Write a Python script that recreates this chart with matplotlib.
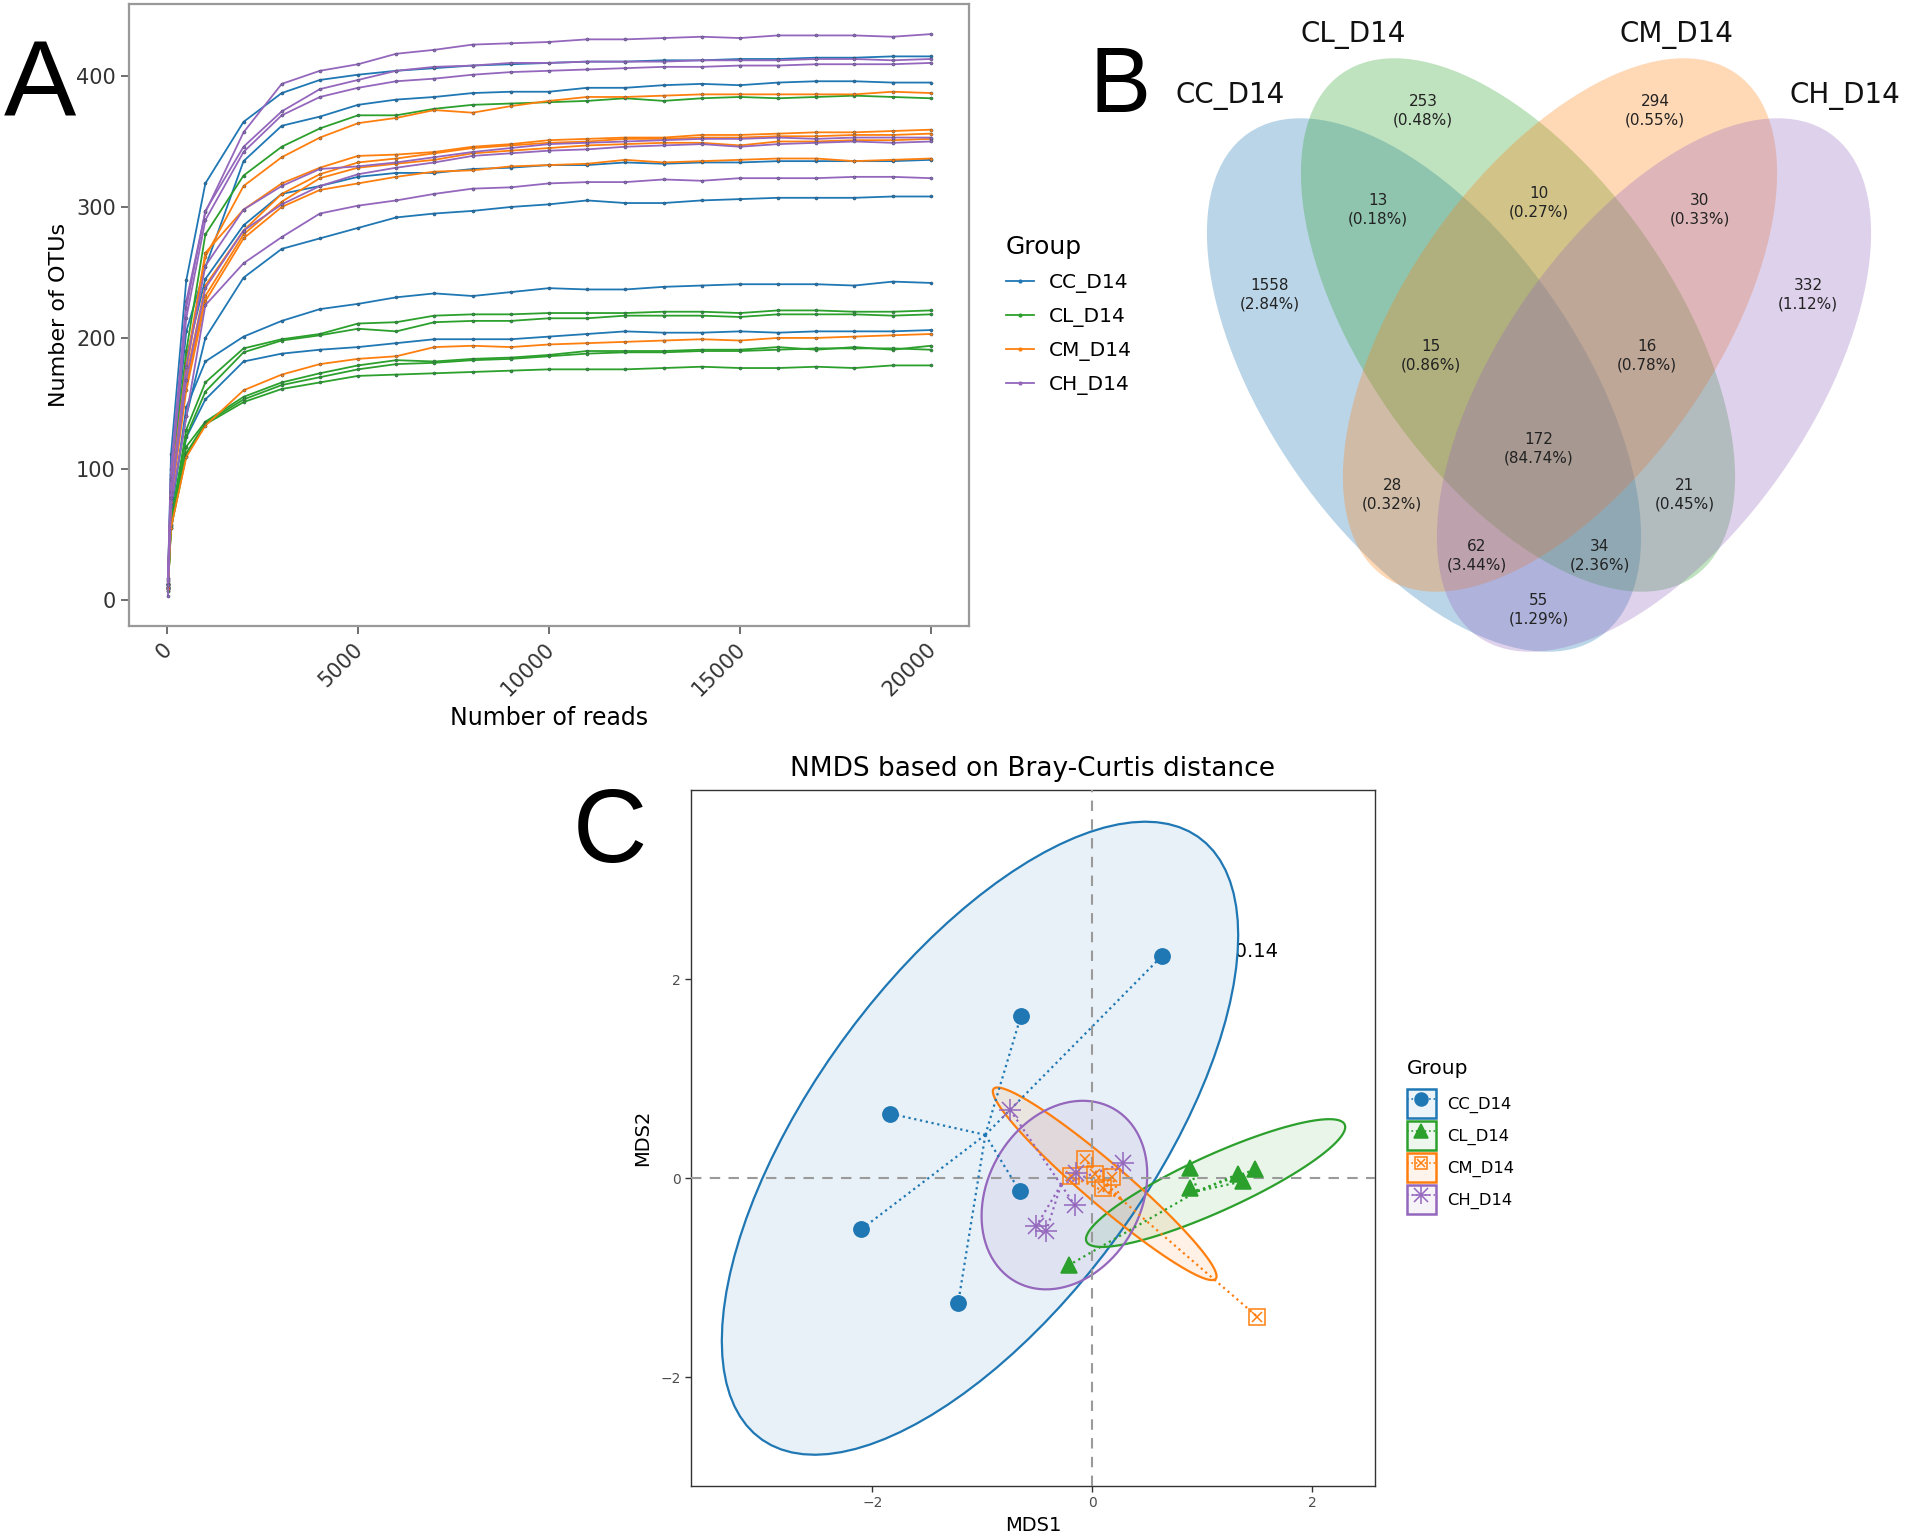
import numpy as np
import matplotlib
matplotlib.use("Agg")
import matplotlib.pyplot as plt
import matplotlib.transforms as mtransforms
from matplotlib.patches import Ellipse, Polygon, Patch
from matplotlib.lines import Line2D
from matplotlib.legend_handler import HandlerTuple

plt.rcParams['font.family'] = ['DejaVu Sans']

groups = ['CC_D14', 'CL_D14', 'CM_D14', 'CH_D14']
group_colors = ['#1f77b4', '#2ca02c', '#ff7f0e', '#9467bd']

# ---- A: rarefaction curves (OTUs vs reads) ----
depths = [20, 100, 500, 1000, 2000, 3000, 4000, 5000, 6000, 7000, 8000, 9000,
          10000, 11000, 12000, 13000, 14000, 15000, 16000, 17000, 18000, 19000, 20000]

cc_curves = [
    [14, 111, 244, 318, 365, 387, 397, 401, 404, 406, 408, 409, 410, 411, 411, 412, 412, 413, 413, 414, 414, 415, 415],
    [12, 90, 205, 254, 335, 362, 369, 378, 382, 384, 387, 388, 388, 391, 391, 393, 394, 393, 395, 396, 396, 395, 395],
    [11, 80, 185, 245, 286, 310, 316, 323, 326, 326, 329, 330, 332, 332, 334, 333, 334, 334, 335, 335, 335, 335, 336],
    [10, 70, 140, 200, 246, 268, 276, 284, 292, 295, 297, 300, 302, 305, 303, 303, 305, 306, 307, 307, 307, 308, 308],
    [9, 65, 147, 182, 201, 213, 222, 226, 231, 234, 232, 235, 238, 237, 237, 239, 240, 241, 241, 241, 240, 243, 242],
    [9, 60, 124, 153, 182, 188, 191, 193, 196, 199, 199, 199, 201, 203, 205, 204, 204, 205, 204, 205, 205, 205, 206],
]
cl_curves = [
    [12, 88, 190, 279, 324, 346, 360, 370, 370, 375, 378, 379, 380, 381, 383, 381, 383, 384, 383, 384, 385, 384, 383],
    [9, 60, 130, 166, 192, 199, 203, 211, 212, 217, 218, 218, 219, 219, 219, 220, 220, 219, 221, 221, 220, 220, 221],
    [8, 58, 125, 159, 189, 198, 202, 207, 205, 212, 213, 213, 215, 215, 217, 217, 217, 216, 218, 218, 218, 217, 218],
    [8, 57, 117, 136, 155, 166, 173, 179, 183, 182, 184, 185, 187, 190, 190, 190, 191, 191, 193, 191, 193, 191, 194],
    [7, 56, 112, 135, 153, 164, 170, 176, 180, 181, 183, 184, 186, 188, 189, 189, 190, 190, 191, 192, 192, 192, 191],
    [7, 55, 110, 134, 151, 161, 166, 171, 172, 173, 174, 175, 176, 176, 176, 177, 178, 177, 177, 178, 177, 179, 179],
]
cm_curves = [
    [13, 85, 175, 262, 316, 338, 353, 364, 368, 374, 372, 377, 381, 384, 384, 385, 386, 386, 386, 386, 386, 388, 387],
    [12, 85, 180, 265, 298, 318, 330, 339, 340, 342, 346, 348, 351, 352, 353, 353, 355, 355, 356, 357, 357, 358, 359],
    [11, 80, 170, 240, 282, 310, 325, 334, 337, 341, 345, 347, 349, 350, 352, 352, 353, 353, 354, 354, 355, 355, 356],
    [10, 78, 165, 232, 279, 304, 322, 330, 333, 336, 341, 343, 345, 347, 348, 349, 349, 347, 350, 350, 351, 351, 352],
    [10, 75, 160, 228, 276, 300, 313, 318, 323, 327, 328, 331, 332, 333, 336, 334, 335, 336, 337, 337, 335, 336, 337],
    [8, 55, 109, 133, 160, 172, 180, 184, 186, 193, 194, 193, 195, 196, 197, 198, 199, 198, 200, 200, 201, 202, 203],
]
ch_curves = [
    [17, 100, 228, 296, 357, 394, 404, 409, 417, 420, 424, 425, 426, 428, 428, 429, 430, 429, 431, 431, 431, 430, 432],
    [16, 95, 223, 297, 346, 373, 390, 397, 404, 407, 408, 410, 410, 411, 411, 411, 412, 412, 412, 413, 413, 412, 413],
    [15, 92, 215, 290, 342, 370, 384, 391, 396, 398, 401, 403, 404, 405, 406, 407, 407, 408, 408, 409, 409, 409, 410],
    [3, 72, 140, 225, 257, 277, 295, 301, 305, 310, 314, 315, 318, 319, 319, 321, 320, 322, 322, 322, 323, 323, 322],
    [12, 82, 178, 255, 298, 316, 329, 331, 334, 338, 342, 345, 348, 349, 350, 351, 352, 352, 353, 352, 353, 353, 353],
    [11, 78, 168, 238, 282, 302, 316, 325, 330, 334, 339, 341, 343, 344, 346, 347, 348, 346, 348, 349, 350, 349, 350],
]

# ---- B: Venn counts ----
venn_counts = [1558, 253, 294, 332, 13, 10, 30, 15, 16, 172, 28, 21, 62, 34, 55]
venn_pcts = ['2.84%', '0.48%', '0.55%', '1.12%', '0.18%', '0.27%', '0.33%', '0.86%',
             '0.78%', '84.74%', '0.32%', '0.45%', '3.44%', '2.36%', '1.29%']

# ---- C: NMDS coordinates ----
cc_x = [0.63, -0.65, -1.84, -0.66, -2.10, -1.22]
cc_y = [2.23, 1.63, 0.65, -0.13, -0.51, -1.25]
cl_x = [0.89, 0.89, 1.32, 1.37, 1.48, -0.21]
cl_y = [0.10, -0.10, 0.04, -0.03, 0.09, -0.87]
cm_x = [-0.07, -0.19, 0.02, 0.18, 0.10, 1.50]
cm_y = [0.19, 0.02, 0.04, 0.01, -0.10, -1.39]
ch_x = [-0.75, -0.15, 0.28, -0.16, -0.51, -0.42]
ch_y = [0.69, 0.05, 0.15, -0.27, -0.48, -0.53]
stress = 0.14

W, H = 1908, 1535
fig = plt.figure(figsize=(W / 100, H / 100), dpi=100)


def box(l, t, r, b):
    return [l / W, 1 - b / H, (r - l) / W, (b - t) / H]


# ================= A =================
ax1 = fig.add_axes(box(129, 4, 969, 626))
for curves, col in zip([cc_curves, cl_curves, cm_curves, ch_curves], group_colors):
    for c in curves:
        ax1.plot(depths, c, color=col, lw=1.3, marker='.', ms=4.5, mec='#334455', mew=0.3)
ax1.set_xlim(-1000, 21000)
ax1.set_ylim(-20, 455)
ax1.set_xticks([0, 5000, 10000, 15000, 20000])
ax1.set_yticks([0, 100, 200, 300, 400])
ax1.tick_params(labelsize=15, colors='#555555', labelcolor='#333333', length=6, width=1.2)
shift = mtransforms.ScaledTranslation(0.09, 0, fig.dpi_scale_trans)
for lab in ax1.get_xticklabels():
    lab.set_rotation(45)
    lab.set_ha('right')
    lab.set_transform(lab.get_transform() + shift)
for s in ax1.spines.values():
    s.set_color('#999999')
    s.set_linewidth(1.6)
ax1.set_xlabel('Number of reads', fontsize=17, labelpad=4)
ax1.set_ylabel('Number of OTUs', fontsize=16, labelpad=5)

handles_a = [Line2D([0], [0], color=c, lw=1.3, marker='.', ms=4) for c in group_colors]
fig.legend(handles_a, groups, title='Group', loc='upper left',
           bbox_to_anchor=(1006 / W, 1 - 235 / H), frameon=False, fontsize=14.5,
           title_fontsize=18, alignment='left', handlelength=1.4, handletextpad=0.75,
           labelspacing=0.69, borderpad=0, borderaxespad=0)

# ================= B =================
ax2 = fig.add_axes(box(960, 0, 1908, 680))
ax2.set_xlim(960, 1908)
ax2.set_ylim(680, 0)
ax2.axis('off')
ell_centers = [(1424, 385), (1518, 325), (1560, 325), (1654, 385)]
ell_angles = [55, 55, -55, -55]
for (cx, cy), ang, col in zip(ell_centers, ell_angles, group_colors):
    ax2.add_patch(Ellipse((cx, cy), 614, 310, angle=ang, facecolor=col, alpha=0.3, lw=0))
text_pos = [(1270, 295), (1423, 111), (1655, 111), (1808, 295), (1378, 210), (1539, 203),
            (1700, 210), (1431, 356), (1647, 356), (1539, 449), (1392, 495), (1685, 495),
            (1477, 556), (1600, 556), (1539, 610)]
for (tx, ty), n, p in zip(text_pos, venn_counts, venn_pcts):
    ax2.text(tx, ty, f'{n}\n({p})', ha='center', va='center', fontsize=11,
             linespacing=1.3, color='#222222')
name_pos = [(1230, 96), (1353, 35), (1676, 35), (1845, 96)]
for (tx, ty), g in zip(name_pos, groups):
    ax2.text(tx, ty, g, ha='center', va='center', fontsize=20, color='#111111')

# ================= C =================
ax3 = fig.add_axes(box(691, 790, 1375, 1486))


def cov_trob(pts, nu=5, maxit=25, tol=0.01):
    n, p = pts.shape
    loc = pts.mean(axis=0)
    w = np.ones(n)
    for _ in range(maxit):
        w0 = w
        X = pts - loc
        _, d, vt = np.linalg.svd(np.sqrt(w / w.sum())[:, None] * X, full_matrices=False)
        Q = ((X @ vt.T / d) ** 2).sum(axis=1)
        w = (nu + p) / (nu + Q)
        loc = (w[:, None] * pts).sum(axis=0) / w.sum()
        if np.all(np.abs(w - w0) < tol):
            break
    sx = np.sqrt(w)[:, None] * X
    return loc, sx.T @ sx / n


def ellipse_path(pts, level=0.9):
    loc, cov = cov_trob(pts)
    dfd = len(pts) - 1
    fq = dfd / 2 * ((1 - level) ** (-2 / dfd) - 1)
    r = np.sqrt(2 * fq)
    t = np.linspace(0, 2 * np.pi, 101)
    circ = np.column_stack([np.cos(t), np.sin(t)])
    return loc + r * circ @ np.linalg.cholesky(cov).T


ax3.text(1.69, 2.275, f'stress = {stress}', ha='right', va='center', fontsize=14, zorder=1)

marker_sets = [
    [dict(marker='o', ms=11, mfc=None)],
    [dict(marker='^', ms=12, mfc=None)],
    [dict(marker='s', ms=11, mfc='none'), dict(marker='x', ms=7, mfc=None)],
    [dict(marker='+', ms=16, mfc=None), dict(marker='x', ms=11.5, mfc=None)],
]
all_x = [cc_x, cl_x, cm_x, ch_x]
all_y = [cc_y, cl_y, cm_y, ch_y]
for i, (xs, ys, col) in enumerate(zip(all_x, all_y, group_colors)):
    pts = np.column_stack([xs, ys])
    ell = ellipse_path(pts)
    if i == 0:
        fc = (0.91, 0.945, 0.97)
        ax3.add_patch(Polygon(ell, closed=True, facecolor=fc, edgecolor='none', zorder=2))
    else:
        ax3.add_patch(Polygon(ell, closed=True, facecolor=col, alpha=0.1, edgecolor='none', zorder=2 + i * 0.1))
    ax3.add_patch(Polygon(ell, closed=True, facecolor='none', edgecolor=col, lw=1.6, zorder=2.5 + i * 0.1))
    mx, my = np.mean(xs), np.mean(ys)
    for x, y in zip(xs, ys):
        ax3.plot([mx, x], [my, y], color=col, ls=':', lw=1.6, zorder=4)
    for m in marker_sets[i]:
        ax3.plot(xs, ys, ls='none', marker=m['marker'], ms=m['ms'], color=col,
                 mfc=col if m['mfc'] is None else m['mfc'], mec=col, mew=1.1, zorder=5)

ax3.axhline(0, color='#9a9a9a', ls=(0, (5, 4)), lw=1.5, zorder=3)
ax3.axvline(0, color='#9a9a9a', ls=(0, (5, 4)), lw=1.5, zorder=3)
ax3.set_xlim(-3.65, 2.57)
ax3.set_ylim(-3.09, 3.90)
ax3.set_xticks([-2, 0, 2])
ax3.set_yticks([-2, 0, 2])
ax3.tick_params(labelsize=10, colors='#333333', labelcolor='#4d4d4d', length=4, width=1)
for s in ax3.spines.values():
    s.set_color('#333333')
    s.set_linewidth(1.0)
ax3.set_xlabel('MDS1', fontsize=14, labelpad=4)
ax3.set_ylabel('MDS2', fontsize=14, labelpad=6)
ax3.set_title('NMDS based on Bray-Curtis distance', fontsize=19, pad=10)

handles_c = []
for i, col in enumerate(group_colors):
    parts = [Patch(facecolor=col, alpha=0.08, edgecolor='none'),
             Patch(facecolor='none', edgecolor=col, lw=1.8)]
    parts.append(Line2D([0], [0], color=col, ls=':', lw=1.2))
    for m in marker_sets[i]:
        parts.append(Line2D([0], [0], ls='none', marker=m['marker'], ms=m['ms'] * 0.85, color=col,
                            mfc=col if m['mfc'] is None else m['mfc'], mec=col, mew=1.1))
    handles_c.append(tuple(parts))
fig.text(1407 / W, 1 - 1068 / H, 'Group', ha='left', va='center', fontsize=14.5)
fig.legend(handles_c, groups, loc='upper left',
           handler_map={tuple: HandlerTuple(ndivide=1, pad=0)},
           bbox_to_anchor=(1407 / W, 1 - 1089 / H), frameon=False, fontsize=11.8,
           handlelength=1.75, handleheight=2.3,
           handletextpad=0.7, labelspacing=0.22, borderpad=0, borderaxespad=0)

# panel letters
fig.text(40 / W, 1 - 116 / H, 'A', ha='center', va='baseline', fontsize=78, family='Liberation Sans')
fig.text(1120 / W, 1 - 112 / H, 'B', ha='center', va='baseline', fontsize=66, family='Liberation Sans')
fig.text(610 / W, 1 - 862 / H, 'C', ha='center', va='baseline', fontsize=74, family='Liberation Sans')

fig.savefig('out.png', dpi=100, facecolor='white')
